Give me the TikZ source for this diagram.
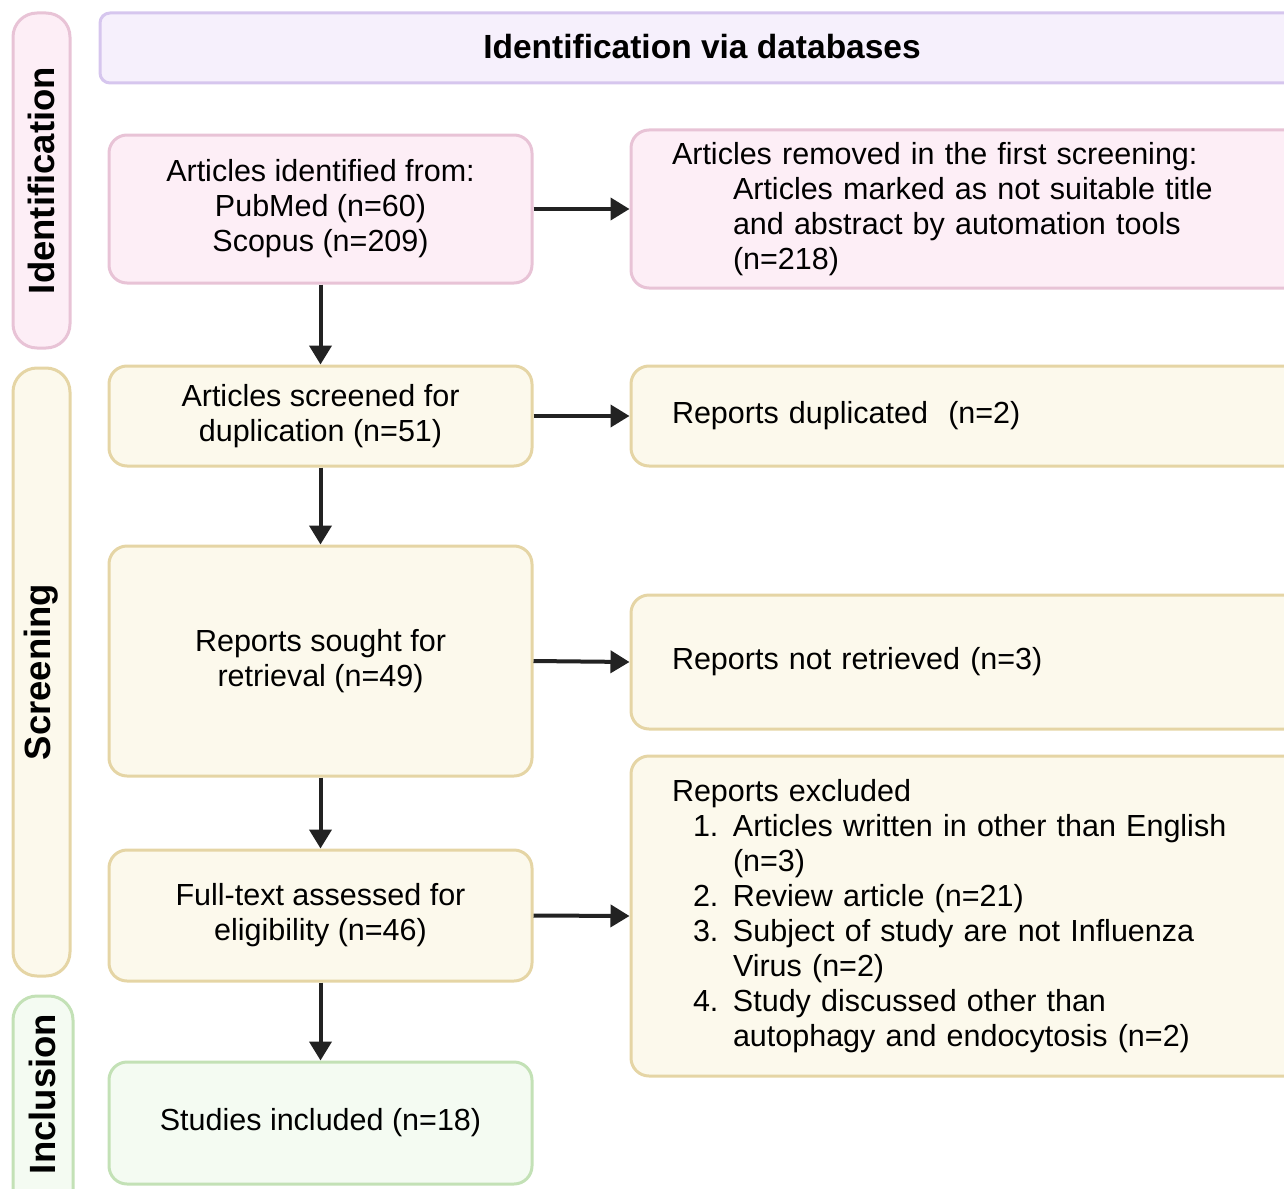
\documentclass[tikz,border=0pt]{standalone}
\usepackage{fontspec}
\setmainfont{Liberation Sans}
\usetikzlibrary{arrows.meta}
\definecolor{pinkF}{HTML}{FDEEF6}
\definecolor{pinkD}{HTML}{E8C3D6}
\definecolor{yelF}{HTML}{FCF9EC}
\definecolor{yelD}{HTML}{E5D5A5}
\definecolor{grnF}{HTML}{F4FBF2}
\definecolor{grnD}{HTML}{C3E1B6}
\definecolor{purF}{HTML}{F6F0FC}
\definecolor{purD}{HTML}{D6C6EE}
\definecolor{arr}{HTML}{222222}
\tikzset{
  box/.style={draw, line width=3pt, rounded corners=18pt, font=\fontsize{30.5}{35}\selectfont, inner sep=0pt},
  pinkbox/.style={box, fill=pinkF, draw=pinkD},
  yelbox/.style={box, fill=yelF, draw=yelD},
  grnbox/.style={box, fill=grnF, draw=grnD},
  side/.style={draw, line width=3pt, rounded corners=24pt, minimum width=57pt, inner sep=0pt},
  sidelabel/.style={rotate=90, font=\fontsize{36.5}{42}\selectfont\bfseries},
  flow/.style={draw=arr, line width=4pt, -{Triangle[width=22pt,length=19pt]}},
}
\begin{document}
\begin{tikzpicture}[x=1pt,y=-1pt]
\useasboundingbox (0,0) rectangle (1284,1188);
\clip (0,0) rectangle (1284,1188);
% side bars
\node[side, fill=pinkF, draw=pinkD, minimum height=335pt] (sid) at (41.5,180.5) {};
\node[sidelabel] (sidl) at (sid.center) {Identification};
\node[side, fill=yelF, draw=yelD, minimum height=608pt] (sscr) at (41.5,672) {};
\node[sidelabel] (sscrl) at (sscr.center) {Screening};
\node[side, fill=grnF, draw=grnD, minimum width=60pt, minimum height=220pt] (sinc) at (43,1106) {};
\node[sidelabel] (sincl) at (42,1094) {Inclusion};
% header
\node[draw=purD, fill=purF, line width=3pt, rounded corners=10pt, minimum width=1220pt, minimum height=70pt, inner sep=0pt] (head) at (710,48) {};
\node[font=\fontsize{33.5}{38}\selectfont\bfseries] (headl) at (702,47) {Identification via databases};
% left column
\node[pinkbox, minimum width=423pt, minimum height=148pt, align=center] (b1) at (320.5,209) {Articles identified from:\\PubMed (n=60)\\Scopus (n=209)};
\node[yelbox, minimum width=423pt, minimum height=100pt, align=center] (b3) at (320.5,416) {Articles screened for\\duplication (n=51)};
\node[yelbox, minimum width=423pt, minimum height=230pt, align=center] (b5) at (320.5,661) {Reports sought for\\retrieval (n=49)};
\node[yelbox, minimum width=423pt, minimum height=131pt, align=center] (b7) at (320.5,915.5) {Full-text assessed for\\eligibility (n=46)};
\node[grnbox, minimum width=423pt, minimum height=122pt, align=center] (b9) at (320.5,1123) {Studies included (n=18)};
% right column
\node[pinkbox, minimum width=680pt, minimum height=158pt, text width=598pt, align=left] (b2) at (971,209) {Articles removed in the first screening:\\\hspace*{61pt}Articles marked as not suitable title\\\hspace*{61pt}and abstract by automation tools\\\hspace*{61pt}(n=218)};
\node[yelbox, minimum width=680pt, minimum height=100pt, text width=598pt, align=left] (b4) at (971,416) {Reports duplicated~~(n=2)};
\node[yelbox, minimum width=680pt, minimum height=134pt, text width=598pt, align=left] (b6) at (971,662) {Reports not retrieved (n=3)};
\node[yelbox, minimum width=680pt, minimum height=320pt, text width=598pt, align=left] (b8) at (971,916) {Reports excluded\\
\hspace*{21pt}\makebox[40pt][l]{1.}Articles written in other than English\\
\hspace*{61pt}(n=3)\\
\hspace*{21pt}\makebox[40pt][l]{2.}Review article (n=21)\\
\hspace*{21pt}\makebox[40pt][l]{3.}Subject of study are not Influenza\\
\hspace*{61pt}Virus (n=2)\\
\hspace*{21pt}\makebox[40pt][l]{4.}Study discussed other than\\
\hspace*{61pt}autophagy and endocytosis (n=2)};
% arrows
\draw[flow] (b1.south) -- (b3.north);
\draw[flow] (b3.south) -- (b5.north);
\draw[flow] (b5.south) -- (b7.north);
\draw[flow] (b7.south) -- (b9.north);
\draw[flow] (b1.east) -- (b2.west);
\draw[flow] (b3.east) -- (b4.west);
\draw[flow] (b5.east) -- (b6.west);
\draw[flow] (b7.east) -- (b8.west);
\end{tikzpicture}
\end{document}
